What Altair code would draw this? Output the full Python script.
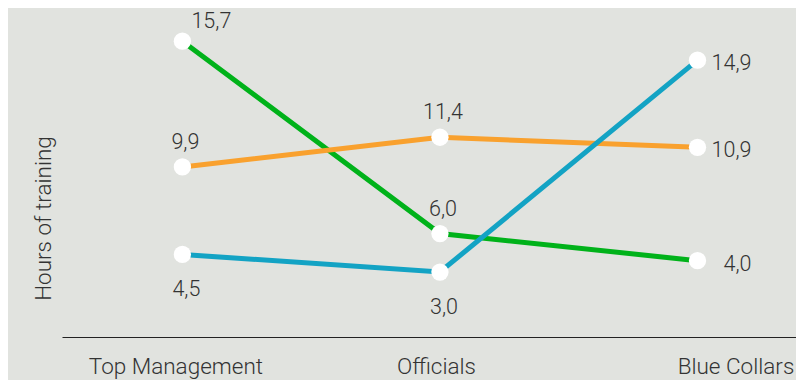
import altair as alt
import pandas as pd

categories = ["Top Management", "Officials", "Blue Collars"]
series_names = ["Series A", "Series B", "Series C"]
series_a_values = [15.7, 6.0, 4.0]   # green
series_b_values = [9.9, 11.4, 10.9]  # orange
series_c_values = [4.5, 3.0, 14.9]   # blue
series_colors = ["#00b21a", "#f9a12e", "#13a3c4"]

rows = []
for name, vals in zip(series_names, [series_a_values, series_b_values, series_c_values]):
    for cat, v in zip(categories, vals):
        rows.append({"series": name, "category": cat, "value": v})
df = pd.DataFrame(rows)

FONT = "Roboto"
TXT = "#333333"

x_enc = alt.X(
    "category:N",
    sort=categories,
    scale=alt.Scale(type="point", padding=0.425, align=0.55),
    axis=alt.Axis(
        title=None, labelAngle=0, labelFont=FONT, labelFontSize=22.5, labelFontWeight=300,
        labelColor=TXT, domainColor="#222222", domainWidth=1.2, ticks=False, grid=False,
        labelBaseline="alphabetic", labelPadding=36,
        labelOffset=alt.ExprRef("datum.value === 'Blue Collars' ? 38 : (datum.value === 'Top Management' ? -7 : -4)"),
    ),
)
y_enc = alt.Y(
    "value:Q",
    scale=alt.Scale(type="pow", exponent=1.5, domain=[-4.9, 17.05], zero=False, nice=False),
    axis=alt.Axis(
        title="Hours of training", labels=False, ticks=False, domain=False, grid=False,
        titleFont=FONT, titleFontSize=22.5, titleFontWeight=300, titleColor=TXT,
        titleX=-19, titleY=210, titleBaseline="middle", titleAlign="center",
    ),
)

base = alt.Chart(df).encode(x=x_enc, y=y_enc)

lines = base.mark_line(strokeWidth=5).encode(
    color=alt.Color("series:N", scale=alt.Scale(domain=series_names, range=series_colors), legend=None),
    detail="series:N",
)
points = base.mark_circle(size=300, color="white", opacity=1)

labeled = base.transform_calculate(
    label="replace(format(datum.value, '.1f'), '.', ',')"
)
tstyle = dict(font=FONT, fontSize=21.5, fontWeight=300, color=TXT, baseline="middle")

right_lbl = labeled.transform_filter("datum.category === 'Blue Collars'").mark_text(
    align="right", dx=54, dy=4, **tstyle).encode(text="label:N")
below_lbl = labeled.transform_filter(
    "datum.category !== 'Blue Collars' && datum.series === 'Series C'").mark_text(
    align="center", dx=4, dy=36, **tstyle).encode(text="label:N")
above_right_lbl = labeled.transform_filter(
    "datum.category === 'Top Management' && datum.series === 'Series A'").mark_text(
    align="center", dx=29, dy=-19, **tstyle).encode(text="label:N")
above_lbl = labeled.transform_filter(
    "datum.category !== 'Blue Collars' && datum.series !== 'Series C' && "
    "!(datum.category === 'Top Management' && datum.series === 'Series A')").mark_text(
    align="center", dx=3, dy=-24, **tstyle).encode(text="label:N")

chart = alt.layer(lines, points, right_lbl, below_lbl, above_right_lbl, above_lbl).properties(
    width=734,
    height=329,
    autosize=alt.AutoSizeParams(type="none"),
    padding={"left": 54, "top": 0, "right": 0, "bottom": 43},
    background="#e1e3df",
).configure_view(stroke=None)

chart.save("out.html", embed_options={"renderer": "svg", "actions": False})
